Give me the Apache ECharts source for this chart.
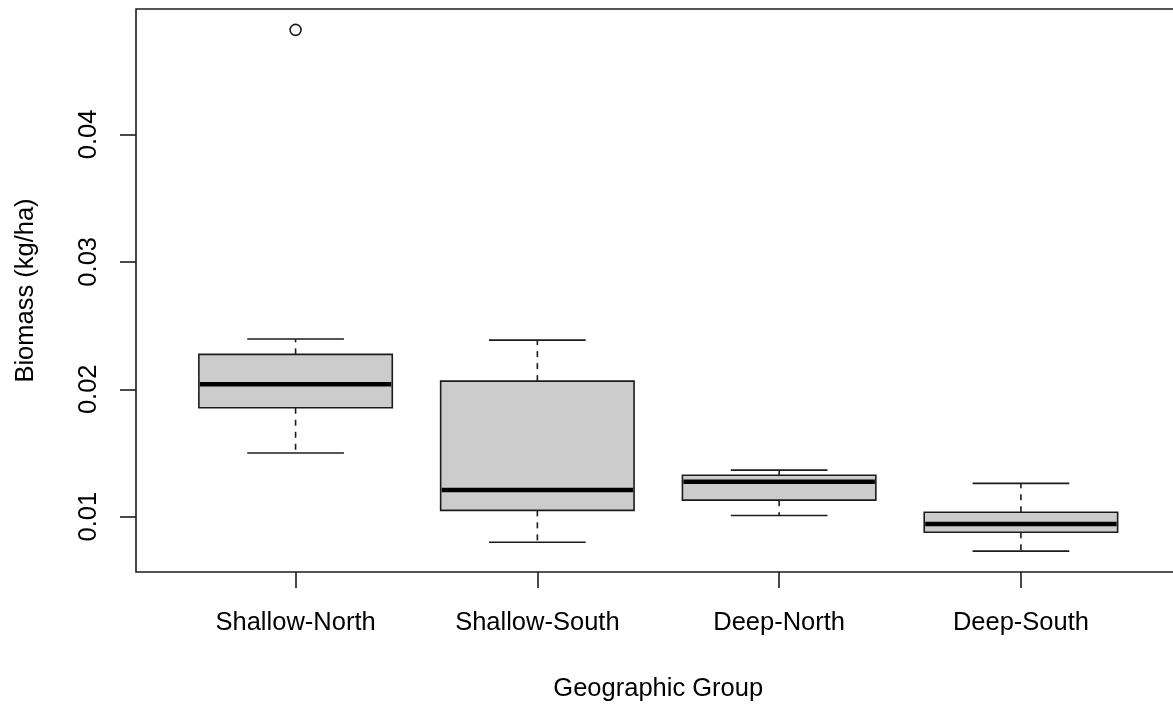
<!DOCTYPE html>
<html>
<head>
<meta charset="utf-8">
<title>Biomass by Geographic Group</title>
<script src="https://cdn.jsdelivr.net/npm/echarts@6/dist/echarts.min.js"></script>
<style>
  html, body { margin: 0; padding: 0; background: #ffffff; }
  #chart { width: 1173px; height: 706px; }
</style>
</head>
<body>
<div id="chart"></div>
<script>
// Groups along the x axis
const categories = ['Shallow-North', 'Shallow-South', 'Deep-North', 'Deep-South'];

// Five-number summaries per group (kg/ha)
const whiskerLow  = [0.0150, 0.0080, 0.0101, 0.0073];
const lowerQuart  = [0.01855, 0.0105, 0.0113, 0.00878];
const medians     = [0.0204, 0.0121, 0.01275, 0.00943];
const upperQuart  = [0.02274, 0.02064, 0.01325, 0.01035];
const whiskerHigh = [0.02394, 0.02386, 0.01366, 0.01262];

// Points beyond the whiskers: [group index, value]
const outliers = [[0, 0.0482]];

// Tick marks on the value axis
const yTicks = [0.01, 0.02, 0.03, 0.04];

// Value range padded by 4% on each side
const allVals = whiskerLow.concat(whiskerHigh, outliers.map(o => o[1]));
const vMin = Math.min.apply(null, allVals);
const vMax = Math.max.apply(null, allVals);
const pad = (vMax - vMin) * 0.04;

// Group positions are 1..n; the x range adds half a slot plus 4%
const n = categories.length;
const xPad = n * 0.04;
const xMin = 0.5 - xPad;
const xMax = n + 0.5 + xPad;

const boxData = categories.map((c, i) => [
  i + 1, whiskerLow[i], lowerQuart[i], medians[i], upperQuart[i], whiskerHigh[i]
]);
const outlierData = outliers.map(o => [o[0] + 1, o[1]]);

const ink = '#1c1c1c';
const fontFamily = '"Liberation Sans", Arial, sans-serif';
const fontSize = 25.5;
const boxHalf = 0.4;     // half of box width in axis units
const capHalf = 0.2;     // half of whisker cap width

function renderBox(params, api) {
  const x = api.value(0);
  const lo = api.coord([x, api.value(1)]);
  const q1 = api.coord([x, api.value(2)]);
  const md = api.coord([x, api.value(3)]);
  const q3 = api.coord([x, api.value(4)]);
  const hi = api.coord([x, api.value(5)]);
  const left = api.coord([x - boxHalf, 0])[0];
  const right = api.coord([x + boxHalf, 0])[0];
  const capL = api.coord([x - capHalf, 0])[0];
  const capR = api.coord([x + capHalf, 0])[0];
  const cx = lo[0];
  const thin = { stroke: ink, lineWidth: 1.6, fill: null };
  const dashed = { stroke: ink, lineWidth: 1.6, lineDash: [6, 6], fill: null };
  return {
    type: 'group',
    children: [
      { type: 'line', shape: { x1: cx, y1: q3[1], x2: cx, y2: hi[1] }, style: dashed },
      { type: 'line', shape: { x1: cx, y1: q1[1], x2: cx, y2: lo[1] }, style: dashed },
      { type: 'line', shape: { x1: capL, y1: hi[1], x2: capR, y2: hi[1] }, style: thin },
      { type: 'line', shape: { x1: capL, y1: lo[1], x2: capR, y2: lo[1] }, style: thin },
      { type: 'rect', shape: { x: left, y: q3[1], width: right - left, height: q1[1] - q3[1] },
        style: { fill: '#cccccc', stroke: ink, lineWidth: 1.6 } },
      { type: 'line', shape: { x1: left + 1, y1: md[1], x2: right - 1, y2: md[1] },
        style: { stroke: '#000000', lineWidth: 4.5 } }
    ]
  };
}

const chart = echarts.init(document.getElementById('chart'), null, { renderer: 'canvas' });
chart.setOption({
  animation: false,
  backgroundColor: '#ffffff',
  textStyle: { fontFamily: fontFamily },
  grid: {
    left: 136, top: 9, right: -7.5, bottom: 134,
    containLabel: false,
    outerBoundsMode: 'none',
    show: true, borderColor: ink, borderWidth: 1.6, backgroundColor: 'transparent'
  },
  xAxis: {
    type: 'value',
    min: xMin, max: xMax,
    name: 'Geographic Group',
    nameLocation: 'middle',
    nameGap: 104,
    nameTextStyle: { color: '#000', fontSize: fontSize, fontFamily: fontFamily },
    axisLine: { show: false },
    splitLine: { show: false },
    axisTick: {
      show: true, length: 16, inside: false,
      customValues: [1, 2, 3, 4],
      lineStyle: { color: ink, width: 1.6 }
    },
    axisLabel: {
      customValues: [1, 2, 3, 4],
      margin: 38,
      color: '#000', fontSize: fontSize, fontFamily: fontFamily,
      formatter: v => categories[Math.round(v) - 1] || ''
    }
  },
  yAxis: {
    type: 'value',
    min: vMin - pad, max: vMax + pad,
    name: 'Biomass (kg/ha)',
    nameLocation: 'middle',
    nameGap: 97,
    nameTextStyle: { color: '#000', fontSize: fontSize, fontFamily: fontFamily },
    axisLine: { show: false },
    splitLine: { show: false },
    axisTick: {
      show: true, length: 16, inside: false,
      customValues: yTicks,
      lineStyle: { color: ink, width: 1.6 }
    },
    axisLabel: {
      customValues: yTicks,
      rotate: 90,
      margin: 34,
      color: '#000', fontSize: fontSize, fontFamily: fontFamily,
      formatter: v => String(Math.round(v * 100) / 100)
    }
  },
  series: [
    {
      type: 'custom',
      renderItem: renderBox,
      data: boxData,
      encode: { x: 0, y: [1, 2, 3, 4, 5] },
      clip: false,
      z: 2
    },
    {
      type: 'scatter',
      data: outlierData,
      symbol: 'circle',
      symbolSize: 11,
      z: 3,
      itemStyle: { color: 'rgba(255,255,255,0)', borderColor: ink, borderWidth: 1.6, opacity: 1 }
    }
  ]
});
</script>
</body>
</html>
